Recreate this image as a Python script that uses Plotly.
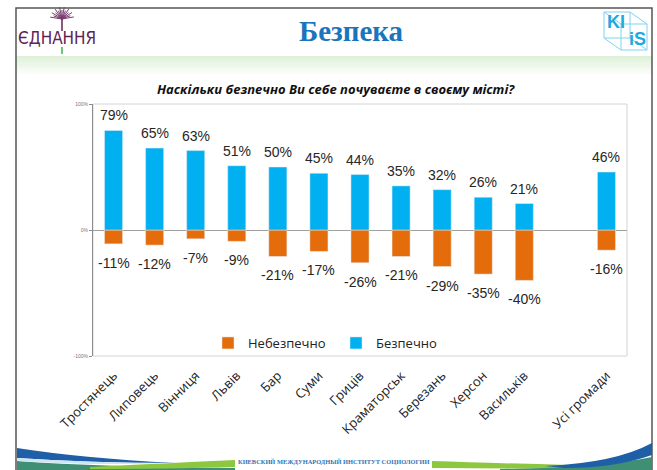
import math
import plotly.graph_objects as go

categories = ["Тростянець", "Липовець", "Вінниця", "Львів", "Бар", "Суми", "Гриців",
              "Краматорськ", "Березань", "Херсон", "Васильків", " ", "Усі громади"]
safe = [0.79, 0.65, 0.63, 0.51, 0.50, 0.45, 0.44, 0.35, 0.32, 0.26, 0.21, None, 0.46]
unsafe = [-0.11, -0.12, -0.07, -0.09, -0.21, -0.17, -0.26, -0.21, -0.29, -0.35, -0.40, None, -0.16]
series_names = ["Небезпечно", "Безпечно"]
y_tickvals = [-1, 0, 1]
y_ticktext = ["-100%", "0%", "100%"]
page_title = "Безпека"
chart_title = "Наскільки безпечно Ви себе почуваєте в своєму місті?"
footer_text = "КИЕВСКИЙ МЕЖДУНАРОДНЫЙ ИНСТИТУТ СОЦИОЛОГИИ"

W, H = 657, 470
L, R, T, B = 93, 627, 104, 356


def px(x):
    return (x - L) / (R - L)


def py(y):
    return (B - y) / (B - T)


def path(points, close=True):
    s = ""
    for i, p in enumerate(points):
        if p[0] == "Q":
            s += f" Q{px(p[1]):.4f},{py(p[2]):.4f} {px(p[3]):.4f},{py(p[4]):.4f}"
        else:
            s += (" M" if i == 0 else " L") + f"{px(p[0]):.4f},{py(p[1]):.4f}"
    return s + (" Z" if close else "")


ORANGE = "#e46c0a"
BLUE = "#00b0f0"

fig = go.Figure()
fig.add_trace(go.Bar(x=categories, y=unsafe, name=series_names[0], marker_color=ORANGE, width=0.44))
fig.add_trace(go.Bar(x=categories, y=safe, name=series_names[1], marker_color=BLUE, width=0.44))

label_font = dict(family="Liberation Sans", size=14, color="#262626")
annotations = []
for c, v in zip(categories, safe):
    if v is not None:
        annotations.append(dict(x=c, y=v, xref="x", yref="y", text=f"{round(v*100)}%",
                                showarrow=False, xanchor="center", yanchor="middle", yshift=15,
                                font=label_font))
for c, v in zip(categories, unsafe):
    if v is not None:
        annotations.append(dict(x=c, y=v, xref="x", yref="y", text=f"{round(v*100)}%",
                                showarrow=False, xanchor="center", yanchor="middle", yshift=-19,
                                font=label_font))


def paper_text(x, y, text, font):
    return dict(x=px(x), y=py(y), xref="paper", yref="paper", text=text, showarrow=False,
                xanchor="center", yanchor="middle", font=font)


annotations += [
    paper_text(351, 31, f"<b>{page_title}</b>",
               dict(family="Liberation Serif", size=29, color="#1b75bc")),
    paper_text(336, 89, f"<b><i>{chart_title}</i></b>",
               dict(family="Open Sans", size=13, color="#111111")),
    paper_text(57, 38, "ЄДНАННЯ",
               dict(family="DejaVu Sans Condensed", size=17, color="#5e2456")),
    paper_text(616, 22, "<b>KI</b>",
               dict(family="Liberation Sans", size=18, color="#1fa9e1")),
    paper_text(637, 39, "<b>iS</b>",
               dict(family="Liberation Sans", size=18, color="#1fa9e1")),
    paper_text(334, 461, f"<b>{footer_text}</b>",
               dict(family="Liberation Serif", size=6.4, color="#2e75b6")),
]

shapes = []
# header gradient band
for i in range(10):
    y0 = 56 + i * 1.8
    shapes.append(dict(type="rect", xref="paper", yref="paper", x0=px(16), x1=px(652),
                       y0=py(y0), y1=py(y0 + 1.8), line_width=0,
                       fillcolor="#d9edd2", opacity=0.9 - i * 0.09, layer="below"))
# slide border
shapes.append(dict(type="rect", xref="paper", yref="paper", x0=px(16), x1=px(652),
                   y0=py(8), y1=py(490), line=dict(color="#555555", width=1.5)))
# plot box
shapes.append(dict(type="rect", xref="paper", yref="paper", x0=0, x1=1, y0=0, y1=1,
                   line=dict(color="#d4d4d4", width=1), layer="below"))
# dandelion
cx, cy = 62, 19
for k in range(15):
    ang = math.radians(-10 - k * 11.5)
    r = 12 if k % 2 == 0 else 9
    shapes.append(dict(type="line", xref="paper", yref="paper", x0=px(cx), y0=py(cy),
                       x1=px(cx + r * math.cos(ang)), y1=py(cy + r * math.sin(ang)),
                       line=dict(color="#7a3b6e", width=1)))
shapes.append(dict(type="line", xref="paper", yref="paper", x0=px(cx), y0=py(cy),
                   x1=px(cx), y1=py(31), line=dict(color="#5e2456", width=1.5)))
shapes.append(dict(type="line", xref="paper", yref="paper", x0=px(cx), y0=py(47),
                   x1=px(cx), y1=py(54), line=dict(color="#3cb44b", width=1.5)))
# KIIS cube
cube = [((604, 12), (630, 12)), ((630, 12), (630, 38)), ((630, 38), (604, 38)), ((604, 38), (604, 12)),
        ((621, 24), (647, 24)), ((647, 24), (647, 50)), ((647, 50), (621, 50)), ((621, 50), (621, 24)),
        ((604, 12), (621, 24)), ((630, 12), (647, 24)), ((630, 38), (647, 50)), ((604, 38), (621, 50))]
for (a, b) in cube:
    shapes.append(dict(type="line", xref="paper", yref="paper", x0=px(a[0]), y0=py(a[1]),
                       x1=px(b[0]), y1=py(b[1]), line=dict(color="#7fd3f2", width=1)))


def wave(points, color, opacity=1.0):
    shapes.append(dict(type="path", xref="paper", yref="paper", line_width=0,
                       fillcolor=color, opacity=opacity, path=path(points)))


# footer waves (left)
wave([(17, 461), ("Q", 100, 467, 235, 468), (235, 471), (17, 471)], "#3f8f74")
wave([(90, 467), ("Q", 170, 463, 235, 460), (235, 467), ("Q", 170, 469, 90, 469)], "#8dc63f")
wave([(17, 448), ("Q", 80, 458, 175, 463), ("Q", 90, 463, 17, 458)], "#1f5fa8")
wave([(17, 458), ("Q", 90, 463, 175, 463), ("Q", 90, 466, 17, 461)], "#cfe6f2")
# footer waves (right)
wave([(432, 461), ("Q", 490, 463, 570, 465), (570, 469), (432, 468)], "#8dc63f")
wave([(500, 469), ("Q", 600, 468, 652, 457), (652, 471), (500, 471)], "#3f8f74")
wave([(545, 466), ("Q", 615, 463, 652, 443), (652, 455), ("Q", 615, 468, 565, 468)], "#1f5fa8")

fig.update_layout(
    width=W, height=H,
    margin=dict(l=L, r=W - R, t=T, b=H - B),
    paper_bgcolor="white", plot_bgcolor="rgba(0,0,0,0)",
    barmode="relative", bargap=0.56,
    showlegend=True,
    legend=dict(orientation="h", x=px(208), xanchor="left", y=py(343), yanchor="middle",
                font=dict(family="Open Sans", size=13, color="#222222"),
                entrywidth=83, entrywidthmode="pixels", traceorder="normal",
                bgcolor="rgba(0,0,0,0)"),
    xaxis=dict(type="category", tickangle=-45, showgrid=False, showline=False, zeroline=False,
               tickfont=dict(family="Open Sans", size=13, color="#222222"),
               ticks="outside", ticklen=6, tickcolor="rgba(0,0,0,0)"),
    yaxis=dict(range=[-1, 1], tickvals=y_tickvals, ticktext=y_ticktext, showgrid=False,
               showline=True, linecolor="#8c8c8c", linewidth=1,
               zeroline=True, zerolinecolor="#a0a0a0", zerolinewidth=1,
               tickfont=dict(family="Liberation Sans", size=5, color="#777777"),
               ticks="outside", ticklen=3, tickcolor="#8c8c8c"),
    annotations=annotations,
    shapes=shapes,
)

fig.write_html("out.html", config={"displayModeBar": False},
               post_script="document.body.style.margin='0';")
